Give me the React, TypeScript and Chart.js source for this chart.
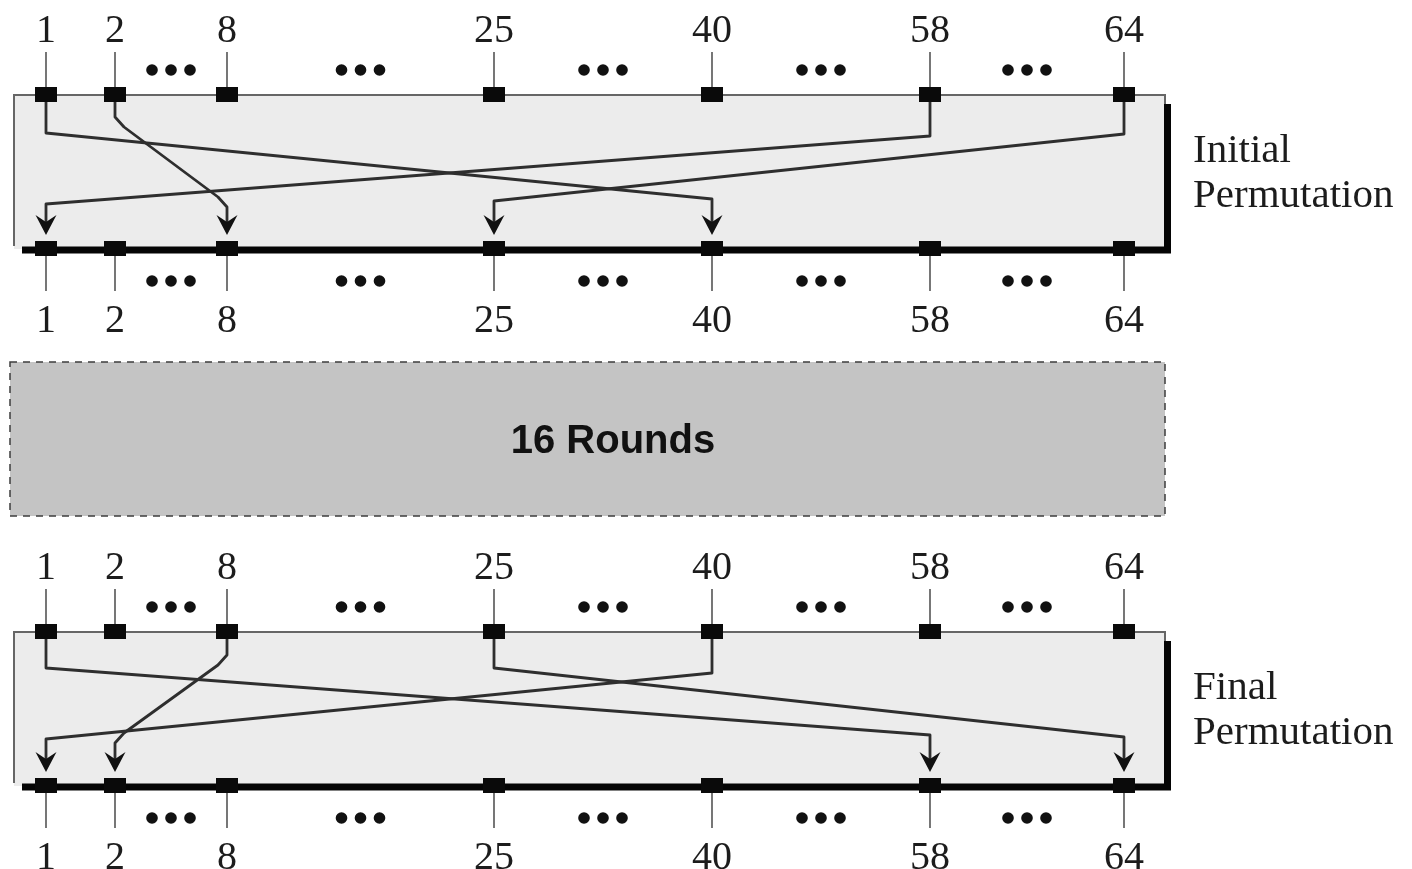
import React, { useEffect, useRef } from 'react';
import { Chart, registerables } from 'chart.js';
Chart.register(...registerables);

const W = 1412;
const H = 869;

// ---- diagram data (in diagram units: x 0..1412, y 0..869 top-down) ----
const pinLabels = ['1', '2', '8', '25', '40', '58', '64'];
const pinPositions = [46, 115, 227, 494, 712, 930, 1124];
const blockTitles = ['Initial', 'Final'];
const blockSubtitle = 'Permutation';
const blockTops = [95, 632];
const blockBottoms = [249, 786];
const routeFrom = [['1', '2', '58', '64'], ['1', '8', '25', '40']];
const routeTo = [['40', '8', '1', '25'], ['58', '2', '64', '1']];
const routeDepart = [[133, 117, 136, 134], [668, 655, 668, 673]];
const routeArrive = [[199, 207, 204, 201], [735, 743, 737, 739]];
const routeCurved = [[false, true, false, false], [false, true, false, false]];
const roundsLabel = '16 Rounds';
const roundsTop = 362;
const roundsBottom = 516;
const roundsLeft = 10;
const roundsRight = 1165;
const boxLeft = 14;
const boxRight = 1165;

const pinX = (label: string) => pinPositions[pinLabels.indexOf(label)];

const SERIF = "'Liberation Serif', 'Times New Roman', serif";
const SANS = "'Liberation Sans', Arial, sans-serif";

function makePinImage() {
  const c = document.createElement('canvas');
  c.width = 22;
  c.height = 15;
  const g = c.getContext('2d')!;
  g.fillStyle = '#0a0a0a';
  g.fillRect(0, 0, 22, 15);
  return c;
}

export default function App() {
  const ref = useRef<HTMLCanvasElement | null>(null);

  useEffect(() => {
    document.body.style.margin = '0';
    const canvas = ref.current!;
    const pinImg = makePinImage();

    const datasets: any[] = [];

    // pins
    const pinPts: { x: number; y: number }[] = [];
    blockTops.forEach((t, i) => {
      const b = blockBottoms[i];
      pinPositions.forEach((px) => {
        pinPts.push({ x: px, y: t - 1 });
        pinPts.push({ x: px, y: b - 1 });
      });
    });
    datasets.push({
      label: 'pins',
      data: pinPts,
      pointStyle: pinImg,
      pointRadius: 8,
      showLine: false,
      clip: false,
      order: 0,
    });

    // ellipsis dots between labelled pins (after pin 2)
    const dotPts: { x: number; y: number }[] = [];
    blockTops.forEach((t, i) => {
      const b = blockBottoms[i];
      for (let k = 1; k < pinPositions.length - 1; k++) {
        const mid = (pinPositions[k] + pinPositions[k + 1]) / 2;
        [-19, 0, 19].forEach((d) => {
          dotPts.push({ x: mid + d, y: t - 25 });
          dotPts.push({ x: mid + d, y: b + 32 });
        });
      }
    });
    datasets.push({
      label: 'dots',
      data: dotPts,
      pointStyle: 'circle',
      pointRadius: 5.8,
      backgroundColor: '#111',
      borderWidth: 0,
      showLine: false,
      clip: false,
      order: 1,
    });

    // permutation routes
    blockTops.forEach((t, bi) => {
      const b = blockBottoms[bi];
      const tip = b - 14;
      routeFrom[bi].forEach((f, ri) => {
        const fx = pinX(f);
        const tx = pinX(routeTo[bi][ri]);
        const dep = routeDepart[bi][ri];
        const arr = routeArrive[bi][ri];
        const s = tx > fx ? 1 : -1;
        const pts = routeCurved[bi][ri]
          ? [
              { x: fx, y: t + 4 },
              { x: fx, y: dep },
              { x: fx + s * 9, y: dep + 10 },
              { x: tx - s * 9, y: arr - 10 },
              { x: tx, y: arr },
              { x: tx, y: tip - 8 },
            ]
          : [
              { x: fx, y: t + 4 },
              { x: fx, y: dep },
              { x: tx, y: arr },
              { x: tx, y: tip - 8 },
            ];
        datasets.push({
          label: 'route',
          data: pts,
          showLine: true,
          borderColor: '#2e2e2e',
          borderWidth: 2.8,
          borderJoinStyle: 'round',
          borderCapStyle: 'butt',
          pointRadius: 0,
          tension: 0,
          clip: false,
          order: 2,
        });
      });
    });

    // stems from labels to pins
    blockTops.forEach((t, i) => {
      const b = blockBottoms[i];
      pinPositions.forEach((px) => {
        datasets.push({
          label: 'stem',
          data: [
            { x: px, y: t - 43 },
            { x: px, y: t - 7 },
          ],
          showLine: true,
          borderColor: '#555',
          borderWidth: 1.6,
          pointRadius: 0,
          clip: false,
          order: 3,
        });
        datasets.push({
          label: 'stem',
          data: [
            { x: px, y: b + 7 },
            { x: px, y: b + 42 },
          ],
          showLine: true,
          borderColor: '#555',
          borderWidth: 1.6,
          pointRadius: 0,
          clip: false,
          order: 3,
        });
      });
    });

    const boxPlugin = {
      id: 'boxes',
      beforeDatasetsDraw(chart: any) {
        const { ctx, scales } = chart;
        const X = (v: number) => scales.x.getPixelForValue(v);
        const Y = (v: number) => scales.y.getPixelForValue(v);
        ctx.save();
        // rounds box
        const rl = X(roundsLeft), rr = X(roundsRight), rt = Y(roundsTop), rb = Y(roundsBottom);
        ctx.fillStyle = '#c4c4c4';
        ctx.fillRect(rl, rt, rr - rl, rb - rt);
        ctx.strokeStyle = '#3c3c3c';
        ctx.lineWidth = 1.5;
        ctx.setLineDash([7, 6]);
        ctx.strokeRect(rl, rt, rr - rl, rb - rt);
        ctx.setLineDash([]);
        // permutation boxes
        blockTops.forEach((t, i) => {
          const b = blockBottoms[i];
          const l = X(boxLeft), r = X(boxRight), ty = Y(t), by = Y(b);
          ctx.fillStyle = '#ececec';
          ctx.fillRect(l, ty, r - l, by - ty);
          ctx.strokeStyle = '#666';
          ctx.lineWidth = 2;
          ctx.lineJoin = 'miter';
          ctx.beginPath();
          ctx.moveTo(l, by - 3);
          ctx.lineTo(l, ty);
          ctx.lineTo(r, ty);
          ctx.lineTo(r, ty + 9);
          ctx.stroke();
          ctx.strokeStyle = '#050505';
          ctx.lineWidth = 7;
          ctx.beginPath();
          ctx.moveTo(l + 8, by + 1);
          ctx.lineTo(r + 2.5, by + 1);
          ctx.lineTo(r + 2.5, ty + 9);
          ctx.stroke();
        });
        ctx.restore();
      },
      afterDatasetsDraw(chart: any) {
        const { ctx, scales } = chart;
        const X = (v: number) => scales.x.getPixelForValue(v);
        const Y = (v: number) => scales.y.getPixelForValue(v);
        ctx.save();
        // arrowheads
        ctx.fillStyle = '#111';
        blockTops.forEach((t, bi) => {
          const tip = blockBottoms[bi] - 14;
          routeTo[bi].forEach((to) => {
            const x = X(pinX(to));
            const y = Y(tip);
            ctx.beginPath();
            ctx.moveTo(x, y);
            ctx.lineTo(x - 10.5, y - 20);
            ctx.lineTo(x, y - 13);
            ctx.lineTo(x + 10.5, y - 20);
            ctx.closePath();
            ctx.fill();
          });
        });
        // labels
        ctx.fillStyle = '#1c1c1c';
        ctx.textAlign = 'center';
        ctx.textBaseline = 'alphabetic';
        ctx.font = `40px ${SERIF}`;
        blockTops.forEach((t, i) => {
          const b = blockBottoms[i];
          pinLabels.forEach((lab, k) => {
            const x = X(pinPositions[k]);
            ctx.fillText(lab, x, Y(t - 53));
            ctx.fillText(lab, x, Y(b + 83));
          });
        });
        ctx.textAlign = 'left';
        ctx.font = `41px ${SERIF}`;
        blockTops.forEach((t, i) => {
          ctx.fillText(blockTitles[i], X(1193), Y(t + 67));
          ctx.fillText(blockSubtitle, X(1193), Y(t + 112));
        });
        ctx.textAlign = 'center';
        ctx.fillStyle = '#111';
        ctx.font = `bold 40px ${SANS}`;
        ctx.fillText(roundsLabel, X(613), Y(453));
        ctx.restore();
      },
    };

    const chart = new Chart(canvas, {
      type: 'scatter',
      data: { datasets },
      options: {
        animation: false,
        responsive: false,
        maintainAspectRatio: false,
        events: [],
        layout: { padding: 0, autoPadding: false },
        scales: {
          x: { type: 'linear', min: 0, max: W, display: false },
          y: { type: 'linear', min: 0, max: H, reverse: true, display: false },
        },
        plugins: {
          legend: { display: false },
          tooltip: { enabled: false },
        },
        elements: { point: { hoverRadius: 0 } },
      },
      plugins: [boxPlugin],
    } as any);

    return () => chart.destroy();
  }, []);

  return (
    <div style={{ width: W, height: H, overflow: 'hidden', background: '#fff' }}>
      <canvas ref={ref} width={W} height={H} style={{ width: W, height: H, display: 'block' }} />
    </div>
  );
}
